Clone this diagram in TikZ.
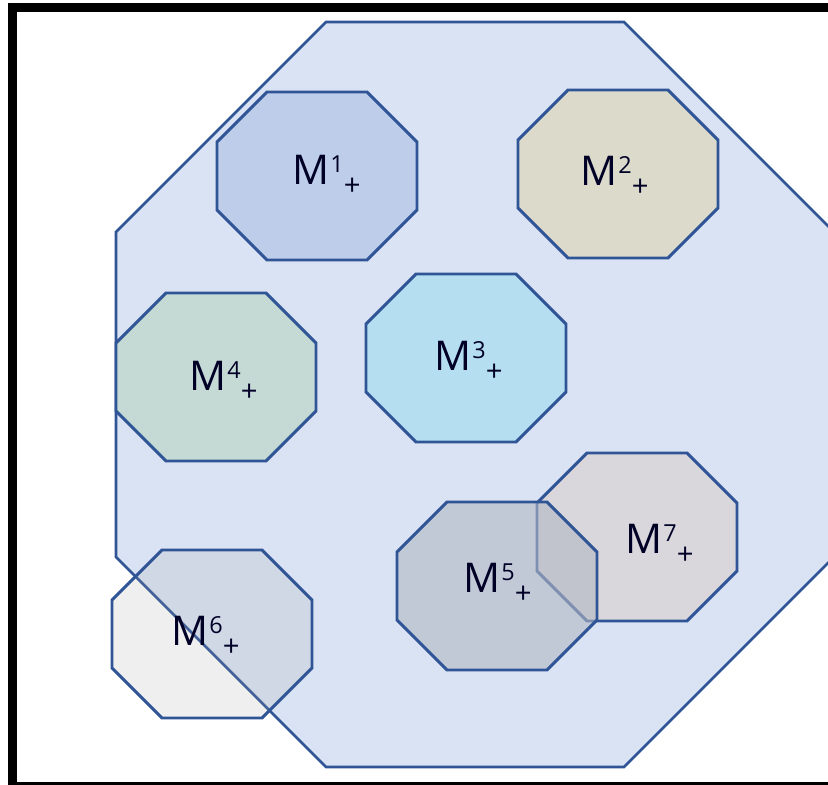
\documentclass[tikz,border=0pt]{standalone}
\usepackage{fontspec}
\setmainfont{Open Sans}
\usepackage{tikz}

\definecolor{edgeblue}{HTML}{2F5597}
\definecolor{bigfill}{HTML}{DAE3F3}
\definecolor{mOne}{HTML}{BDCDEA}
\definecolor{mTwo}{HTML}{DCDACB}
\definecolor{mThree}{HTML}{B5DFF1}
\definecolor{mFour}{HTML}{C5D9D5}
\definecolor{mFive}{HTML}{B3B8C3}
\definecolor{mSix}{HTML}{A0A0A0}
\definecolor{mSeven}{HTML}{D9D6DC}

\tikzset{
	octo/.style={draw=edgeblue, line width=2.5},
	mlabel/.style={anchor=base west, inner sep=0pt, text=black!85!blue, font=\fontsize{35}{35}\selectfont}
}

% octagon with its top left corner at (#1,#2), 200 wide, 168 high
\newcommand{\octagon}[3]{%
	\draw[octo,#3] (#1+50,#2) -- (#1+150,#2) -- (#1+200,#2+50) -- (#1+200,#2+118)
		-- (#1+150,#2+168) -- (#1+50,#2+168) -- (#1,#2+118) -- (#1,#2+50) -- cycle;}
\newcommand{\mtext}[1]{M\kern1pt\raisebox{10pt}{\fontsize{20}{20}\selectfont #1}\raisebox{-10pt}{\fontsize{25}{25}\selectfont +}}

\begin{document}
\begin{tikzpicture}[x=0.03cm,y=-0.03cm]
	\clip (0,0) rectangle (828,785);
	\useasboundingbox (0,0) rectangle (828,785);
	%\draw[help lines] (0,0) grid (828,785);
	\draw[line width=9*0.03cm] (12.5,7.5) rectangle (845,786);	%frame
	
	%big octagon
	\draw[octo, line width=2.2, fill=bigfill] (326,22) -- (624,22) -- (834,232) -- (834,557)
		-- (624,767) -- (326,767) -- (116,557) -- (116,232) -- cycle;
	
	\octagon{112}{550}{fill=mSix, fill opacity=0.17}
	\octagon{217}{92}{fill=mOne}
	\octagon{518}{90}{fill=mTwo}
	\octagon{366}{274}{fill=mThree}
	\octagon{116}{293}{fill=mFour}
	\octagon{537}{453}{fill=mSeven}
	\octagon{397}{502}{fill=mFive, fill opacity=0.6}
	
	\node[mlabel] (M1) at (292,184) {\mtext{1}};
	\node[mlabel] (M2) at (580,185) {\mtext{2}};
	\node[mlabel] (M3) at (434,370) {\mtext{3}};
	\node[mlabel] (M4) at (189,390) {\mtext{4}};
	\node[mlabel] (M5) at (463,592) {\mtext{5}};
	\node[mlabel] (M6) at (171,645) {\mtext{6}};
	\node[mlabel] (M7) at (625,553) {\mtext{7}};
	
\end{tikzpicture}
\end{document}
